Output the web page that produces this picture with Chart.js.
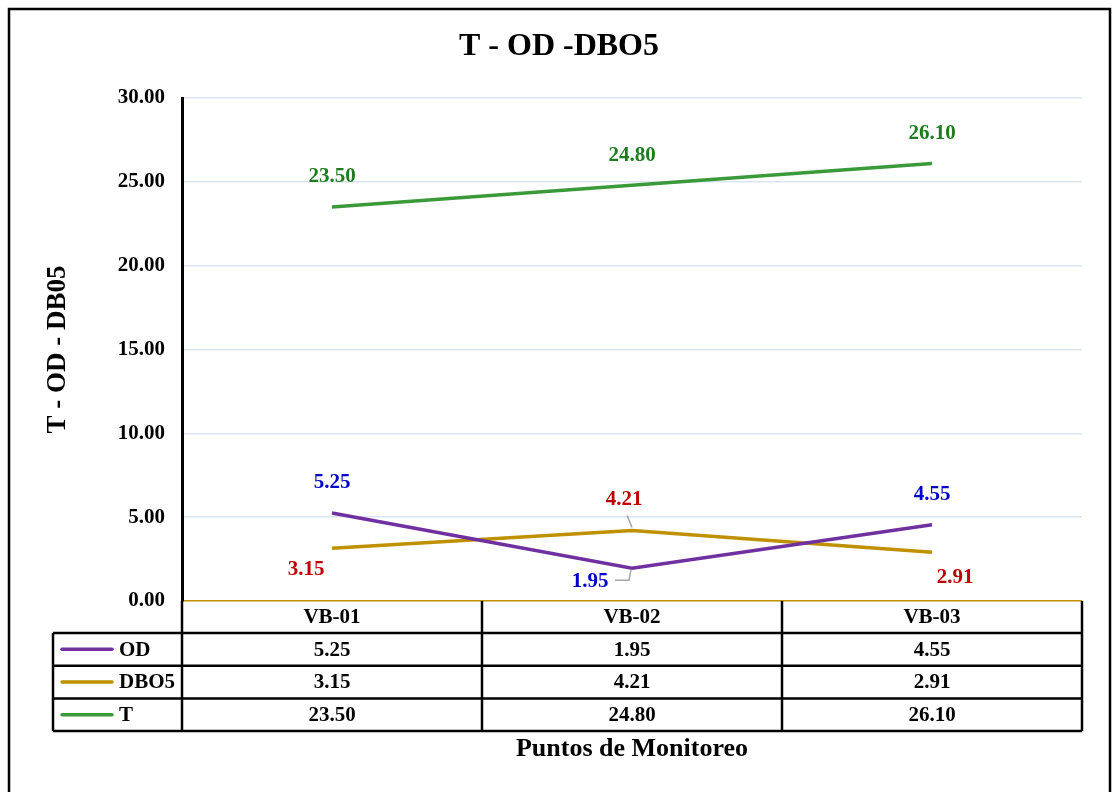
<!DOCTYPE html>
<html>
<head>
<meta charset="utf-8">
<title>T - OD -DBO5</title>
<script src="https://cdn.jsdelivr.net/npm/chart.js@4/dist/chart.umd.min.js"></script>
<style>
  html, body { margin: 0; padding: 0; background: #ffffff; }
  #wrap { width: 1113px; height: 792px; position: relative; }
</style>
</head>
<body>
<div id="wrap"><canvas id="tOdChart"></canvas></div>
<script>
// =========================================
// DATA
// =========================================

const puntos = ["VB-01", "VB-02", "VB-03"];

const odValues = [5.25, 1.95, 4.55];
const dboValues = [3.15, 4.21, 2.91];
const tValues = [23.50, 24.80, 26.10];

const seriesNames = ["OD", "DBO5", "T"];

const yTicks = [0, 5, 10, 15, 20, 25, 30];

// where each data label sits against its point
const odLabelPos = ["above", "belowLeftLeader", "above"];
const dboLabelPos = ["belowLeft", "aboveLeader", "belowRight"];
const tLabelPos = ["above", "above", "above"];


// =========================================
// COLOURS / FONTS
// =========================================

const odColor = "#7030A0";
const dboColor = "#BF9000";
const tColor = "#3A9A3A";

const odLabelColor = "#0000CC";
const dboLabelColor = "#C00000";
const tLabelColor = "#1E7B1E";

const serif = "'Liberation Serif', 'Times New Roman', serif";


// =========================================
// PLUGIN: DATA LABELS
// =========================================

const valueLabels = {
  id: "valueLabels",
  afterDatasetsDraw(chart) {
    const ctx = chart.ctx;
    const places = [odLabelPos, dboLabelPos, tLabelPos];
    const colors = [odLabelColor, dboLabelColor, tLabelColor];

    ctx.save();
    ctx.font = "bold 21px " + serif;
    ctx.textAlign = "center";
    ctx.textBaseline = "middle";

    chart.data.datasets.forEach((ds, i) => {
      const meta = chart.getDatasetMeta(i);
      meta.data.forEach((pt, j) => {
        const txt = ds.data[j].toFixed(2);
        const pos = places[i][j];
        let dx = 0, dy = -30;

        ctx.strokeStyle = "#A6A6A6";
        ctx.lineWidth = 1.5;

        if (pos === "belowLeft") { dx = -26; dy = 21; }
        if (pos === "belowRight") { dx = 23; dy = 25; }
        if (pos === "belowLeftLeader") {
          dx = -42; dy = 13;
          ctx.beginPath();
          ctx.moveTo(pt.x - 17, pt.y + 12);
          ctx.lineTo(pt.x - 3, pt.y + 12);
          ctx.lineTo(pt.x - 1, pt.y + 1);
          ctx.stroke();
        }
        if (pos === "aboveLeader") {
          dx = -8; dy = -31;
          ctx.beginPath();
          ctx.moveTo(pt.x - 5, pt.y - 15);
          ctx.lineTo(pt.x, pt.y - 3);
          ctx.stroke();
        }

        ctx.fillStyle = colors[i];
        ctx.fillText(txt, pt.x + dx, pt.y + dy);
      });
    });
    ctx.restore();
  }
};


// =========================================
// PLUGIN: TITLES, DATA TABLE, FRAME
// =========================================

const dataTable = {
  id: "dataTable",
  afterDraw(chart) {
    const ctx = chart.ctx;
    const area = chart.chartArea;
    const xs = chart.scales.x;
    const colW = (area.right - area.left) / puntos.length;
    const headH = 32;
    const rowH = 32.7;
    const legendLeft = 53;
    const top = area.bottom;
    const rowsTop = top + headH;
    const bottom = rowsTop + rowH * seriesNames.length;

    ctx.save();

    // grid lines of the table
    ctx.strokeStyle = "#000000";
    ctx.lineWidth = 2.5;
    ctx.beginPath();
    for (let r = 0; r <= seriesNames.length; r++) {
      const y = rowsTop + rowH * r;
      ctx.moveTo(legendLeft, y);
      ctx.lineTo(area.right, y);
    }
    for (let c = 0; c <= puntos.length; c++) {
      const x = area.left + colW * c;
      ctx.moveTo(x, top);
      ctx.lineTo(x, bottom);
    }
    ctx.moveTo(legendLeft, rowsTop);
    ctx.lineTo(legendLeft, bottom);
    ctx.stroke();

    // header and values
    ctx.font = "bold 21px " + serif;
    ctx.fillStyle = "#000000";
    ctx.textAlign = "center";
    ctx.textBaseline = "middle";
    puntos.forEach((p, j) => {
      ctx.fillText(p, xs.getPixelForValue(j), top + headH / 2 + 1);
    });

    chart.data.datasets.forEach((ds, i) => {
      const cy = rowsTop + rowH * i + rowH / 2 + 1;
      ds.data.forEach((v, j) => {
        ctx.textAlign = "center";
        ctx.fillText(v.toFixed(2), xs.getPixelForValue(j), cy);
      });

      // legend key
      ctx.strokeStyle = ds.borderColor;
      ctx.lineWidth = 3.5;
      ctx.lineCap = "round";
      ctx.beginPath();
      ctx.moveTo(62, cy - 1);
      ctx.lineTo(112, cy - 1);
      ctx.stroke();

      ctx.textAlign = "left";
      ctx.fillText(ds.label, 119, cy);
    });

    // main title
    ctx.textAlign = "center";
    ctx.font = "bold 32px " + serif;
    ctx.fillText("T - OD -DBO5", 559, 47);

    // x title
    ctx.font = "bold 26px " + serif;
    ctx.fillText("Puntos de Monitoreo", (area.left + area.right) / 2, 749);

    // y title
    ctx.save();
    ctx.translate(58, (area.top + area.bottom) / 2);
    ctx.rotate(-Math.PI / 2);
    ctx.font = "bold 27px " + serif;
    ctx.fillText("T - OD - DB05", 0, 0);
    ctx.restore();

    // outer frame
    ctx.strokeStyle = "#000000";
    ctx.lineWidth = 2.5;
    ctx.beginPath();
    ctx.moveTo(9, 800);
    ctx.lineTo(9, 9);
    ctx.lineTo(1110, 9);
    ctx.lineTo(1110, 800);
    ctx.stroke();

    ctx.restore();
  }
};


// =========================================
// CHART
// =========================================

const chartCtx =
document.getElementById("tOdChart");

new Chart(chartCtx, {

  type: "line",

  data: {

    labels: puntos,

    datasets: [
      {
        label: seriesNames[0],
        data: odValues,
        borderColor: odColor,
        borderWidth: 3.5,
        pointRadius: 0,
        fill: false
      },
      {
        label: seriesNames[1],
        data: dboValues,
        borderColor: dboColor,
        borderWidth: 3.5,
        pointRadius: 0,
        fill: false
      },
      {
        label: seriesNames[2],
        data: tValues,
        borderColor: tColor,
        borderWidth: 3.5,
        pointRadius: 0,
        fill: false
      }
    ]
  },

  options: {

    responsive: true,

    maintainAspectRatio: false,

    animation: false,

    layout: {
      padding: { top: 98, right: 31, bottom: 191, left: 0 }
    },

    plugins: {
      legend: { display: false },
      title: { display: false },
      tooltip: { enabled: false }
    },

    scales: {
      x: {
        display: false,
        offset: true
      },
      y: {
        min: yTicks[0],
        max: yTicks[yTicks.length - 1],
        afterFit(scale) { scale.width = 182; },
        afterBuildTicks(scale) {
          scale.ticks = yTicks.map(v => ({ value: v }));
        },
        ticks: {
          padding: 17,
          color: "#000000",
          font: { family: serif, weight: "bold", size: 21 },
          callback: v => Number(v).toFixed(2)
        },
        grid: {
          drawTicks: false,
          lineWidth: 1.5,
          color: c => (c.tick && c.tick.value === 0) ? dboColor : "#D9E5F2"
        },
        border: {
          color: "#000000",
          width: 3
        }
      }
    }
  },

  plugins: [valueLabels, dataTable]
});
</script>
</body>
</html>
